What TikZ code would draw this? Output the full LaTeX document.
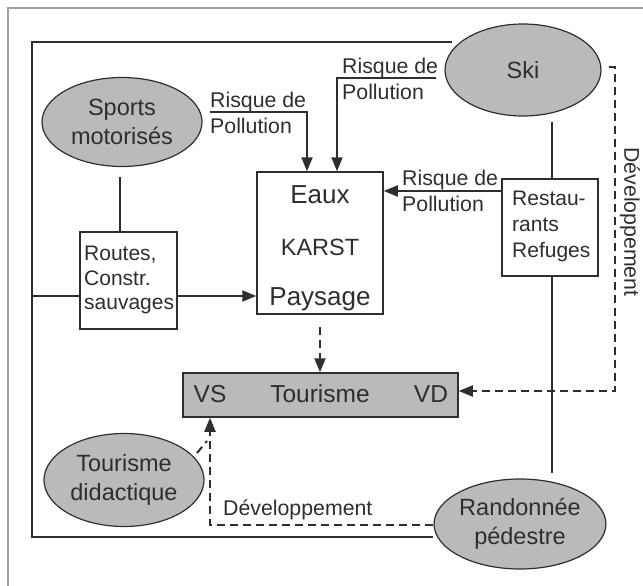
\documentclass[tikz,border=0pt]{standalone}
\usepackage{fontspec}
\setmainfont{Liberation Sans}
\usetikzlibrary{arrows.meta,shapes.geometric}
\definecolor{ink}{HTML}{2E2E2E}
\definecolor{shade}{HTML}{BABABA}
\definecolor{framec}{HTML}{A0A0A0}
\begin{document}
\begin{tikzpicture}[x=1pt,y=-1pt,
  ln/.style={draw=ink,line width=2pt},
  dsh/.style={ln,dash pattern=on 8pt off 5pt},
  tip/.style={-{Triangle[length=14pt,width=11pt]}},
  blob/.style={ellipse,fill=shade,draw=ink,line width=1.2pt,inner sep=0pt,align=center,text=ink,font=\fontsize{23.5}{29.5}\selectfont},
  boxn/.style={rectangle,draw=ink,line width=1.5pt,inner sep=0pt},
  lbl/.style={text=ink,font=\fontsize{21.3}{25.5}\selectfont,align=left,inner sep=0pt,anchor=west},
  big/.style={text=ink,inner sep=0pt}]
\useasboundingbox (0,0) rectangle (643,586);
\draw[framec,line width=1.2pt] (8,586) -- (8,8) -- (643,8);

% nodes
\node[blob,minimum width=156pt,minimum height=92pt] (ski) at (523,70) {Ski};
\node[blob,minimum width=160pt,minimum height=89pt] (sports) at (122,122) {Sports\\motorisés};
\node[blob,minimum width=160pt,minimum height=93pt] (didac) at (124,480) {Tourisme\\didactique};
\node[blob,minimum width=159pt,minimum height=90pt] (rando) at (520,524) {Randonnée\\pédestre};

\node[boxn,minimum width=97pt,minimum height=97pt] (routes) at (128.5,280.5) {};
\node[lbl,font=\fontsize{21}{24.5}\selectfont] (routestxt) at (84,280) {Routes,\\Constr.\\sauvages};

\node[boxn,minimum width=126pt,minimum height=142pt] (karst) at (320,243) {};
\node[big,font=\fontsize{26}{26}\selectfont] (eaux) at (320,195) {Eaux};
\node[big,font=\fontsize{23.5}{23.5}\selectfont] (karsttxt) at (320,247) {KARST};
\node[big,font=\fontsize{26}{26}\selectfont] (pays) at (320,299) {Paysage};

\node[boxn,minimum width=96pt,minimum height=97pt] (resto) at (550,227.5) {};
\node[lbl,font=\fontsize{21}{26}\selectfont] (restotxt) at (512,226) {Restau-\\rants\\Refuges};

\node[boxn,fill=shade,minimum width=275pt,minimum height=44pt] (tour) at (320.5,395) {};
\node[big,font=\fontsize{24.5}{24.5}\selectfont] (vs) at (210,394) {VS};
\node[big,font=\fontsize{24.5}{24.5}\selectfont] (tourtxt) at (320,394) {Tourisme};
\node[big,font=\fontsize{24.5}{24.5}\selectfont] (vd) at (431,394) {VD};

% labels
\node[lbl] (r1) at (210,113) {Risque de\\Pollution};
\node[lbl] (r2) at (342,79) {Risque de\\Pollution};
\node[lbl] (r3) at (402,191) {Risque de\\Pollution};
\node[lbl,rotate=-90,anchor=center] (dev1) at (630,222) {Développement};
\node[lbl] (dev2) at (223,510) {Développement};

% coordinates
\coordinate (r1s) at (210,112);
\coordinate (r1c) at (307,112);
\coordinate (r2s) at (436,78);
\coordinate (r2c) at (337,78);
\coordinate (lt) at (452,42);
\coordinate (ltc) at (32,42);
\coordinate (lbc) at (32,537);
\coordinate (lm) at (32,296);
\coordinate (sp) at (120,177);
\coordinate (sk) at (552,122);
\coordinate (rt) at (552,473);
\coordinate (kb) at (320,327);
\coordinate (dvs) at (609,67);
\coordinate (dv1) at (615,67);
\coordinate (dv2) at (615,391);
\coordinate (bc) at (210,525);
\coordinate (d1) at (197,453);
\coordinate (d2) at (207,441);

% solid connectors
\draw[ln] (lt) -- (ltc) -- (lbc) -- (rando.west |- lbc);
\draw[ln] (lm) -- (routes.west |- lm);
\draw[ln,tip] (routes.east |- lm) -- (karst.west |- lm);
\draw[ln] (sp) -- (sp |- routes.north);
\draw[ln,tip] (r1s) -- (r1c) -- (r1c |- karst.north);
\draw[ln,tip] (r2s) -- (r2c) -- (r2c |- karst.north);
\draw[ln,tip] (resto.west |- 0,191) -- (karst.east |- 0,191);
\draw[ln] (sk) -- (sk |- resto.north);
\draw[ln] (sk |- resto.south) -- (rt);

% dashed connectors
\draw[dsh,tip] (kb) -- (kb |- tour.north);
\draw[dsh,tip] (dvs) -- (dv1) -- (dv2) -- (tour.east |- dv2);
\draw[dsh,tip] (rando.west |- bc) -- (bc) -- (bc |- tour.south);
\draw[dsh] (d1) -- (d2);
\end{tikzpicture}
\end{document}
